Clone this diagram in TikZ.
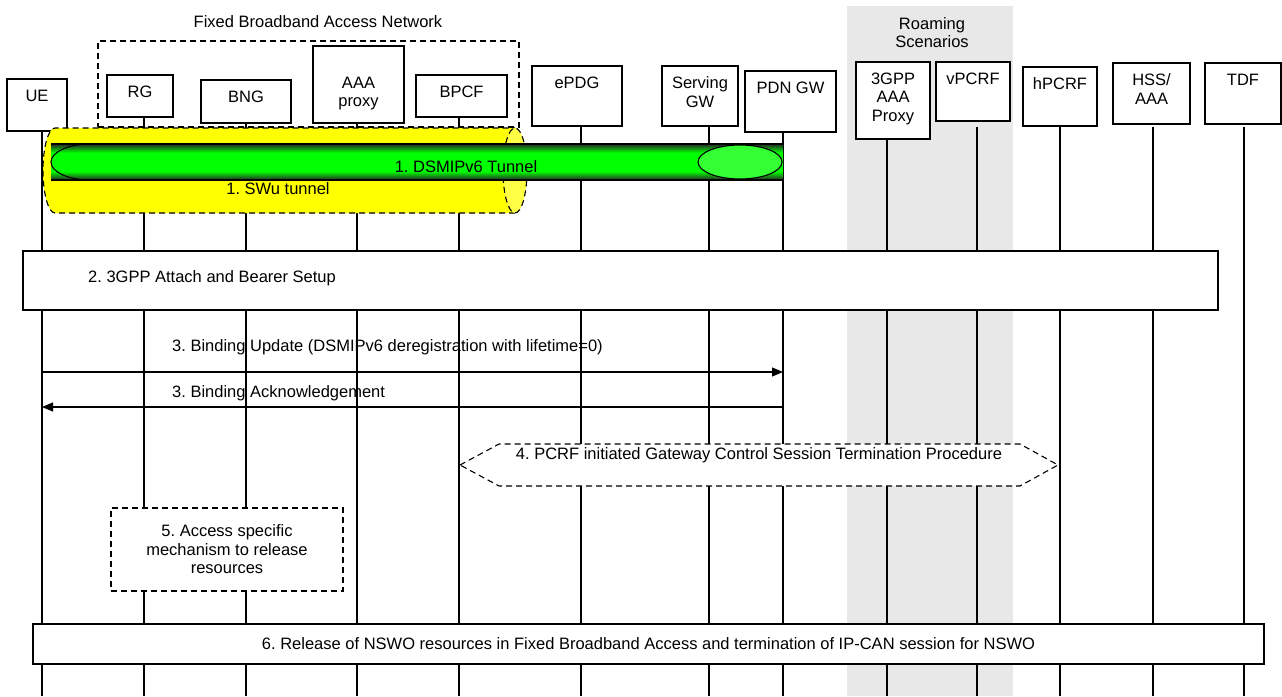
\documentclass[tikz,border=0pt]{standalone}
\usepackage{fontspec}
\setmainfont{Liberation Sans}
\usepackage{tikz}
\usetikzlibrary{arrows.meta, positioning, calc}
\frenchspacing

\definecolor{roamgray}{RGB}{232,232,232}
\definecolor{swuyellow}{RGB}{255,255,0}
\definecolor{capyellow}{RGB}{255,255,70}
\definecolor{tubegreen}{RGB}{0,255,0}
\definecolor{capgreen}{RGB}{51,255,51}
\pgfdeclareverticalshading{dsmiptube}{100bp}{color(0bp)=(black!85); color(25bp)=(black!85); color(37bp)=(tubegreen); color(63bp)=(tubegreen); color(75bp)=(black!85); color(100bp)=(black!85)}

\begin{document}
\begin{tikzpicture}[x=1pt, y=-1pt, >={Triangle[length=11pt, width=9pt]}, font=\fontsize{16.5}{18.5}\selectfont]
        \tikzset{entity/.style={draw, fill=white, inner sep=0pt, line width=1.1pt},
                 entlabel/.style={anchor=north, inner sep=0pt, yshift=-11pt, align=center},
                 lifeline/.style={line width=1.1pt},
                 stepbox/.style={draw, fill=white, line width=1.1pt, inner sep=0pt},
                 dashbox/.style={draw, dash pattern=on 6pt off 4pt, line width=1.1pt},
                 msg/.style={->, line width=1.1pt}}

        \useasboundingbox (0,0) rectangle (1282,696);
        \fill[roamgray] (847,6) rectangle (1013,696);
        \node[align=center] (roam) at (932,32.5) {Roaming\\Scenarios};

        \node (fbantitle) at (318,22) {Fixed Broadband Access Network};
        \node[dashbox, minimum width=421, minimum height=86] (fban) at (308.5,84) {};

        \coordinate (bottom) at (0,696);
        \foreach \n/\x/\y in {ue/42/131, rg/144/117, bng/246/123, aaa/357/123, bpcf/459/117,
                              epdg/581/126, sgw/709/126, pgw/783/132, aaap/887/139,
                              vpcrf/977/127, hpcrf/1060/127, hss/1153/127, tdf/1244/127}
        {
            \coordinate (\n-l) at (\x,\y);
            \draw[lifeline] (\n-l) -- (\n-l |- bottom);
        }

        \node[entity, minimum width=60, minimum height=52, label={[entlabel]north:UE}] (ue) at (37,105) {};
        \node[entity, minimum width=66, minimum height=42, label={[entlabel]north:RG}] (rg) at (140,96) {};
        \node[entity, minimum width=90, minimum height=43, label={[entlabel]north:BNG}] (bng) at (246,101.5) {};
        \node[entity, minimum width=91, minimum height=77, label={[entlabel, yshift=-20pt]north:AAA\\proxy}] (aaa) at (358.5,84.5) {};
        \node[entity, minimum width=91, minimum height=42, label={[entlabel]north:BPCF}] (bpcf) at (461.5,96) {};
        \node[entity, minimum width=90, minimum height=60, label={[entlabel]north:ePDG}] (epdg) at (577,96) {};
        \node[entity, minimum width=76, minimum height=60, label={[entlabel]north:Serving\\GW}] (sgw) at (700,96) {};
        \node[entity, minimum width=91, minimum height=61, label={[entlabel]north:PDN GW}] (pgw) at (790.5,101.5) {};
        \node[entity, minimum width=74, minimum height=77, label={[entlabel]north:3GPP\\AAA\\Proxy}] (aaap) at (893,100.5) {};
        \node[entity, minimum width=74, minimum height=59, label={[entlabel]north:vPCRF}] (vpcrf) at (973,91.5) {};
        \node[entity, minimum width=74, minimum height=59, label={[entlabel]north:hPCRF}] (hpcrf) at (1060,96.5) {};
        \node[entity, minimum width=77, minimum height=61, label={[entlabel]north:HSS/\\AAA}] (hss) at (1151.5,93.5) {};
        \node[entity, minimum width=76, minimum height=61, label={[entlabel]north:TDF}] (tdf) at (1243,93.5) {};

        \path[fill=swuyellow] (515,213) -- (55,213) arc[start angle=90, end angle=270, x radius=12, y radius=42.5] -- (515,128);
        \draw[dash pattern=on 6pt off 4pt, line width=1.1pt] (515,213) -- (55,213) arc[start angle=90, end angle=270, x radius=12, y radius=42.5] -- (515,128);
        \draw[dash pattern=on 6pt off 4pt, line width=1.1pt, fill=capyellow] (515,170.5) ellipse[x radius=12, y radius=42.5];
        \node (swu) at (278,189) {1. SWu tunnel};

        \shade[shading=dsmiptube] (51,144) rectangle (783,180);
        \draw[line width=1.1pt] (51,144) -- (783,144) (51,180) -- (783,180);
        \draw[line width=1.1pt] (110,144) -- (90,144) arc[start angle=270, end angle=90, x radius=39, y radius=18] -- (110,180);
        \draw[line width=1.1pt, fill=capgreen] (740,162) ellipse[x radius=42, y radius=17];
        \node (dsmip) at (466,167) {1. DSMIPv6 Tunnel};

        \node[stepbox, minimum width=1195, minimum height=59] (attach) at (620.5,280.5) {};
        \node[anchor=west, inner sep=0pt] (attachtext) at (88,278) {2. 3GPP Attach and Bearer Setup};

        \coordinate (m3a) at (0,372);
        \coordinate (m3b) at (0,407);
        \node[anchor=west, inner sep=0pt] (bu) at (172,347) {3. Binding Update (DSMIPv6 deregistration with lifetime=0)};
        \draw[msg] (ue-l |- m3a) -- (pgw-l |- m3a);
        \node[anchor=west, inner sep=0pt] (back) at (172,393) {3. Binding Acknowledgement};
        \draw[msg] (pgw-l |- m3b) -- (ue-l |- m3b);

        \draw[dashbox, fill=white] (460,465) -- (499,444) -- (1020,444) -- (1058,465) -- (1020,486) -- (499,486) -- cycle;
        \node (gwctl) at (759,455) {4. PCRF initiated Gateway Control Session Termination Procedure};

        \node[dashbox, fill=white, minimum width=232, minimum height=83, align=center] (accrel) at (227,549.5) {5. Access specific\\mechanism to release\\resources};

        \node[stepbox, minimum width=1231, minimum height=40] (release) at (648.5,644) {6. Release of NSWO resources in Fixed Broadband Access and termination of IP-CAN session for NSWO};
    \end{tikzpicture}
\end{document}
